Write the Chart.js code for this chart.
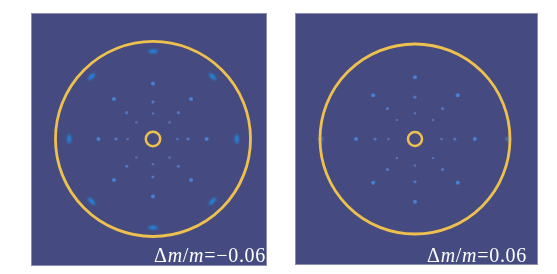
<!DOCTYPE html>
<html>
<head>
<meta charset="utf-8">
<script src="https://cdn.jsdelivr.net/npm/chart.js@4"></script>
<style>
  body { margin: 0; background: #fff; width: 557px; height: 274px; position: relative; overflow: hidden; }
  canvas { position: absolute; }
  #left-panel { left: 31px; top: 13px; }
  #right-panel { left: 295px; top: 13px; }
  .label {
    position: absolute; top: 245px; color: #fff;
    font-family: "Liberation Serif", "Times New Roman", "DejaVu Serif", serif; font-size: 20px; line-height: 1;
    letter-spacing: 0.7px; white-space: nowrap;
  }
  #left-label { right: 291px; }
  #right-label { right: 30px; }
</style>
</head>
<body>
<canvas id="left-panel" width="236" height="253"></canvas>
<canvas id="right-panel" width="243" height="252"></canvas>
<div class="label" id="left-label">Δ<i>m</i>/<i>m</i>=−0.06</div>
<div class="label" id="right-label">Δ<i>m</i>/<i>m</i>=0.06</div>
<script>
// positions in units of the outer ring radius, centre of the pattern at (0,0)
const ringRadius = [1, 0.074];

// Δm/m = -0.06
const leftSpotX = [0, 0, -0.26, 0.25, -0.17, 0.17, -0.17, 0.17,
                   0, 0, -0.38, 0.36, -0.27, 0.26, -0.27, 0.26,
                   0, 0, -0.56, 0.55, -0.40, 0.39, -0.40, 0.39];
const leftSpotY = [0.26, -0.26, 0, 0, 0.17, 0.17, -0.19, -0.19,
                   0.38, -0.39, 0, 0, 0.27, 0.27, -0.28, -0.28,
                   0.57, -0.59, 0, 0, 0.41, 0.41, -0.42, -0.42];
const leftSpotShell = [1, 1, 1, 1, 1, 1, 1, 1, 2, 2, 2, 2, 2, 2, 2, 2, 3, 3, 3, 3, 3, 3, 3, 3];
const leftEdgeX = [0, 0, -0.86, 0.86, -0.63, 0.61, -0.63, 0.61];
const leftEdgeY = [0.90, -0.91, 0, 0, 0.64, 0.64, -0.64, -0.64];

// Δm/m = 0.06
const rightSpotX = [0, 0, -0.28, 0.28, -0.19, 0.19, -0.19, 0.19,
                    0, 0, -0.42, 0.42, -0.29, 0.29, -0.29, 0.29,
                    0, 0, -0.62, 0.63, -0.44, 0.45, -0.44, 0.45];
const rightSpotY = [0.27, -0.28, 0, 0, 0.20, 0.20, -0.20, -0.20,
                    0.44, -0.45, 0, 0, 0.32, 0.32, -0.32, -0.32,
                    0.65, -0.66, 0, 0, 0.46, 0.46, -0.46, -0.46];
const rightSpotShell = [1, 1, 1, 1, 1, 1, 1, 1, 2, 2, 2, 2, 2, 2, 2, 2, 3, 3, 3, 3, 3, 3, 3, 3];
const rightEdgeX = [-0.99, 0.98];
const rightEdgeY = [0, 0];

const bgColor = "#454b80";
const ringColor = "#eec04e";
const shellColors = ["#5670b8", "#5276c4", "#4580d4"];
const shellSizes = [1.3, 1.6, 2.0];

function toPoints(xs, ys) {
  return xs.map((x, i) => ({ x: x, y: ys[i] }));
}

// elongated blue spot used for the bright spots near the ring
function makeStreak(w, h, color) {
  const c = document.createElement("canvas");
  c.width = w + 4;
  c.height = h + 4;
  const g = c.getContext("2d");
  g.filter = "blur(0.8px)";
  g.fillStyle = color;
  g.beginPath();
  g.ellipse(c.width / 2, c.height / 2, w / 2, h / 2, 0, 0, Math.PI * 2);
  g.fill();
  return c;
}

const panelBackground = {
  id: "panelBackground",
  beforeDraw(chart) {
    const ctx = chart.ctx;
    ctx.save();
    ctx.fillStyle = bgColor;
    ctx.fillRect(0, 0, chart.width, chart.height);
    ctx.strokeStyle = "#8a8fb0";
    ctx.lineWidth = 1;
    ctx.strokeRect(0.5, 0.5, chart.width - 1, chart.height - 1);
    ctx.restore();
  }
};

function ringPixels(ctx, r) {
  const s = ctx.chart.scales.x;
  if (!s || !ctx.chart.chartArea) return 0;
  return s.getPixelForValue(r) - s.getPixelForValue(0);
}

function createPanel(id, spotX, spotY, shells, edgeX, edgeY, edgeStyle, xRange, yRange, ringWidths) {
  const canvas = document.getElementById(id);
  const edgePoints = toPoints(edgeX, edgeY);

  new Chart(canvas, {
    type: "scatter",
    data: {
      datasets: [{
        label: "spots",
        data: toPoints(spotX, spotY),
        pointRadius: (c) => shellSizes[shells[c.dataIndex] - 1],
        pointBackgroundColor: (c) => shellColors[shells[c.dataIndex] - 1],
        pointBorderWidth: 0
      }, {
        label: "outer ring",
        data: [{ x: 0, y: 0 }],
        pointRadius: (c) => ringPixels(c, ringRadius[0]),
        pointBorderColor: ringColor,
        pointBackgroundColor: "rgba(0,0,0,0)",
        pointBorderWidth: ringWidths[0]
      }, {
        label: "centre ring",
        data: [{ x: 0, y: 0 }],
        pointRadius: (c) => ringPixels(c, ringRadius[1]),
        pointBorderColor: ringColor,
        pointBackgroundColor: "rgba(0,0,0,0)",
        pointBorderWidth: ringWidths[1]
      }, {
        label: "edge spots",
        data: edgePoints,
        pointStyle: edgeStyle,
        pointRadius: 5,
        // streaks lie along the ring
        rotation: (c) => {
          const p = edgePoints[c.dataIndex];
          return Math.atan2(p.x, p.y) * 180 / Math.PI;
        }
      }]
    },
    options: {
      responsive: false,
      animation: false,
      events: [],
      layout: { padding: 0, autoPadding: false },
      scales: {
        x: { type: "linear", bounds: "data", min: xRange[0], max: xRange[1], display: false },
        y: { type: "linear", bounds: "data", min: yRange[0], max: yRange[1], display: false }
      },
      plugins: {
        legend: { display: false },
        tooltip: { enabled: false }
      }
    },
    plugins: [panelBackground]
  });
}

createPanel("left-panel", leftSpotX, leftSpotY, leftSpotShell, leftEdgeX, leftEdgeY,
  makeStreak(9, 3.5, "#1f8be4"), [-1.251, 1.169], [-1.303, 1.292], [2.8, 2.5]);
createPanel("right-panel", rightSpotX, rightSpotY, rightSpotShell, rightEdgeX, rightEdgeY,
  makeStreak(3, 5, "#5a86c8"), [-1.263, 1.295], [-1.326, 1.326], [2.8, 2.5]);
</script>
</body>
</html>
